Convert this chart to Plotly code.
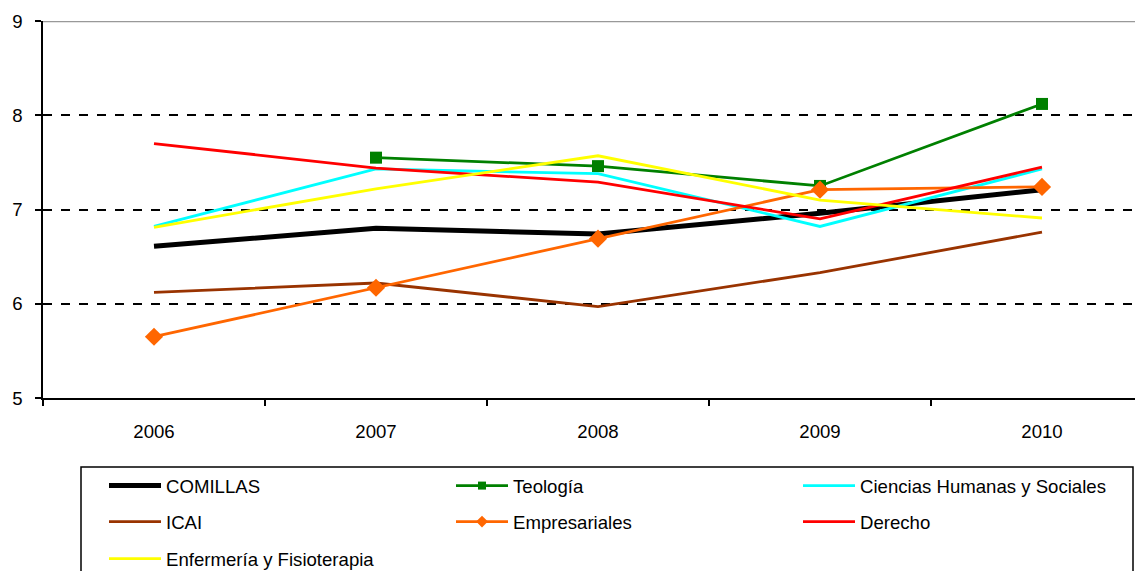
import plotly.graph_objects as go

years = ["2006", "2007", "2008", "2009", "2010"]
comillas = [6.61, 6.80, 6.74, 6.96, 7.21]
teologia = [None, 7.55, 7.46, 7.25, 8.12]
ciencias = [6.82, 7.43, 7.38, 6.82, 7.43]
icai = [6.12, 6.22, 5.97, 6.33, 6.76]
empresariales = [5.65, 6.17, 6.69, 7.21, 7.24]
derecho = [7.70, 7.44, 7.29, 6.90, 7.45]
enfermeria = [6.81, 7.22, 7.57, 7.10, 6.91]

# page body adds an 8px offset; figure is sized so that the plot lands where the reference has it
OFF = 8
W, H = 1143 - OFF, 571 - OFF
ML, MT = 43 - OFF, 21 - OFF
MB = H - (398 - OFF)
PLOT_W = 1100
PLOT_H = 377


def py(screen_y):
    return (398 - screen_y) / PLOT_H


def pxx(screen_x):
    return (screen_x - 43) / PLOT_W


series = [
    ("COMILLAS", comillas, "#000000", 5, None, "legend"),
    ("Teología", teologia, "#008000", 2.8, "square", "legend"),
    ("Ciencias Humanas y Sociales", ciencias, "#00FFFF", 2.8, None, "legend"),
    ("ICAI", icai, "#993300", 2.8, None, "legend2"),
    ("Empresariales", empresariales, "#FF6600", 2.8, "diamond", "legend2"),
    ("Derecho", derecho, "#FF0000", 2.8, None, "legend2"),
    ("Enfermería y Fisioterapia", enfermeria, "#FFFF00", 2.8, None, "legend3"),
]

fig = go.Figure()
for name, vals, color, lw, sym, lg in series:
    fig.add_trace(go.Scatter(
        x=years, y=vals, name=name,
        mode="lines+markers" if sym else "lines",
        line=dict(color=color, width=lw),
        marker=dict(symbol=sym, size=12 if sym == "square" else 14, color=color) if sym else None,
        showlegend=False, legendgroup=name,
    ))
# legend entries (smaller markers, as in the reference legend)
for name, vals, color, lw, sym, lg in series:
    fig.add_trace(go.Scatter(
        x=[None], y=[None], name=name,
        mode="lines+markers" if sym else "lines",
        line=dict(color=color, width=lw),
        marker=dict(symbol=sym, size=8 if sym == "square" else 9, color=color) if sym else None,
        legend=lg, legendgroup=name, showlegend=True,
    ))

font = dict(family="Liberation Sans, Arial, sans-serif", size=18.6, color="#000000")
leg_common = dict(
    orientation="h", xanchor="left", yanchor="middle",
    x=pxx(104), entrywidth=280, entrywidthmode="pixels",
    itemwidth=52, font=font, bgcolor="rgba(0,0,0,0)", borderwidth=0,
    itemclick=False, itemdoubleclick=False, traceorder="normal",
)

fig.update_layout(
    width=W, height=H,
    margin=dict(l=ML, r=0, t=MT, b=MB, autoexpand=False),
    paper_bgcolor="white", plot_bgcolor="white",
    font=font,
    showlegend=True,
    legend=dict(leg_common, y=py(486)),
    legend2=dict(leg_common, y=py(522)),
    legend3=dict(leg_common, y=py(559)),
    xaxis=dict(
        range=[-0.5, 4.455], type="category", automargin=False,
        showline=True, linecolor="#000000", linewidth=1.5,
        ticks="outside", ticklen=6, tickcolor="#000000", tickwidth=1.5,
        tickson="boundaries", showgrid=False, zeroline=False,
        ticklabelstandoff=16, tickfont=font,
    ),
    yaxis=dict(
        range=[5, 9], dtick=1, tick0=5, automargin=False,
        showline=True, linecolor="#000000", linewidth=1.5,
        ticks="outside", ticklen=6, tickcolor="#000000", tickwidth=1.5,
        showgrid=True, gridcolor="#000000", griddash="dash", gridwidth=1.5,
        zeroline=False, ticklabelstandoff=9, tickfont=font,
    ),
    shapes=[
        dict(type="line", xref="paper", yref="y", x0=0, x1=1, y0=9, y1=9,
             line=dict(color="#999999", width=2.5), layer="above"),
        dict(type="rect", xref="paper", yref="paper",
             x0=pxx(81), x1=pxx(1133), y0=py(467), y1=py(600),
             line=dict(color="#000000", width=1.5), layer="below"),
    ],
)

fig.write_html("out.html")
